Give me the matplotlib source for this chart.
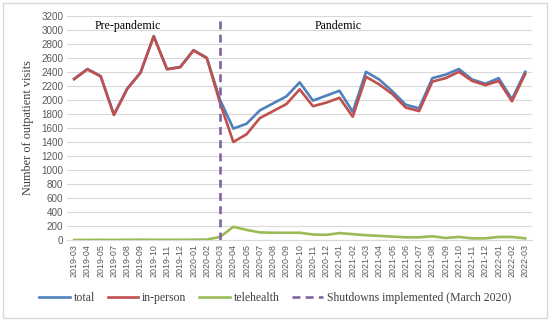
import matplotlib.pyplot as plt
from matplotlib.patches import Rectangle

months = ['2019-03', '2019-04', '2019-05', '2019-07', '2019-08', '2019-09', '2019-10',
          '2019-11', '2019-12', '2020-01', '2020-02', '2020-03', '2020-04', '2020-05',
          '2020-07', '2020-08', '2020-09', '2020-10', '2020-11', '2020-12', '2021-01',
          '2021-02', '2021-03', '2021-04', '2021-05', '2021-06', '2021-07', '2021-08',
          '2021-09', '2021-10', '2021-11', '2021-12', '2022-01', '2022-02', '2022-03']

total = [2300, 2440, 2340, 1790, 2160, 2390, 2910, 2440, 2470, 2710, 2600, 2000,
         1590, 1660, 1850, 1950, 2050, 2250, 1990, 2060, 2130, 1830, 2400, 2290,
         2120, 1930, 1880, 2310, 2360, 2440, 2290, 2230, 2310, 2010, 2400]
in_person = [2295, 2435, 2335, 1785, 2155, 2385, 2905, 2435, 2465, 2705, 2595, 1955,
             1400, 1510, 1740, 1840, 1940, 2150, 1910, 1960, 2030, 1760, 2330, 2220,
             2080, 1890, 1840, 2260, 2310, 2400, 2270, 2210, 2270, 1980, 2370]
telehealth = [2, 3, 4, 3, 5, 6, 5, 4, 5, 6, 8, 45,
              190, 145, 110, 105, 105, 105, 80, 75, 100, 85, 70, 60,
              50, 40, 40, 55, 30, 45, 25, 25, 45, 45, 25]

shutdown = '2020-03'

serif = 'Liberation Serif'
sans = 'Liberation Sans'

fig = plt.figure(figsize=(5.5, 3.21), dpi=100)
ax = fig.add_axes([0.1227, 0.252, 0.967 - 0.1227, 0.951 - 0.252])

x = list(range(len(months)))
ax.plot(x, total, color='#4F81BD', lw=1.9, label='total', zorder=3)
ax.plot(x, in_person, color='#C0504D', lw=1.9, label='in-person', zorder=4)
ax.plot(x, telehealth, color='#9BBB59', lw=1.9, label='telehealth', zorder=3)
sx = months.index(shutdown)
ax.axvline(sx, color='#8064A2', lw=1.9, ls=(0, (3, 2)), zorder=5,
           label='Shutdowns implemented (March 2020)')

ax.set_xlim(-0.5, len(months) - 0.5)
ax.set_ylim(0, 3200)
ax.set_yticks(range(0, 3201, 200))
ax.set_xticks(x)
ax.set_xticklabels(months, rotation=90, fontsize=6.4, color='#595959', family=sans)
for lbl in ax.get_yticklabels():
    lbl.set_fontsize(7.1)
    lbl.set_color('#595959')
    lbl.set_family(sans)
ax.tick_params(length=0, pad=3)
ax.grid(axis='y', color='#D9D9D9', lw=0.8)
ax.set_axisbelow(True)
for s in ['top', 'right', 'left']:
    ax.spines[s].set_visible(False)
ax.spines['bottom'].set_color('#D9D9D9')

ax.set_ylabel('Number of outpatient visits', family=serif, fontsize=8.8, color='#404040', labelpad=5)

ax.text(4.05, 3060, 'Pre-pandemic', family=serif, fontsize=8.6, ha='center', va='center')
ax.text(19.9, 3060, 'Pandemic', family=serif, fontsize=8.6, ha='center', va='center')

fig.legend(loc='center', bbox_to_anchor=(0.5, 0.072), ncol=4, frameon=False,
           prop={'family': serif, 'size': 8.5}, handlelength=2.6, handletextpad=0.3,
           columnspacing=1.1, labelcolor='#404040')

fig.patches.append(Rectangle((0.006, 0.01), 0.988, 0.98, transform=fig.transFigure,
                             fill=False, edgecolor='#D9D9D9', lw=1))

fig.savefig('out.png', dpi=100)
